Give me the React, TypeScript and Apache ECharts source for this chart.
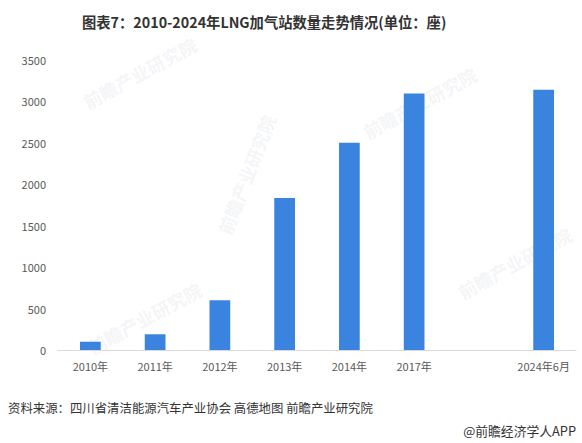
import React, { useEffect, useRef } from "react";
import * as echarts from "echarts";

const categories = ["2010年", "2011年", "2012年", "2013年", "2014年", "2017年", "", "2024年6月"];
const stations: (number | string)[] = [100, 190, 600, 1835, 2500, 3095, "-", 3140];
const yTicks = { min: 0, max: 3500, interval: 500 };
const titleText = "图表7：2010-2024年LNG加气站数量走势情况(单位：座)";
const sourceText = "资料来源：四川省清洁能源汽车产业协会 高德地图 前瞻产业研究院";
const brandText = "@前瞻经济学人APP";
const watermarkText = "前瞻产业研究院";

export default function App() {
  const ref = useRef<HTMLDivElement>(null);
  useEffect(() => {
    if (!ref.current) return;
    const chart = echarts.init(ref.current, undefined, { renderer: "svg" });
    const wm = (x: number, y: number, rot: number) => ({
      type: "text",
      x,
      y,
      rotation: rot,
      z: -1,
      silent: true,
      style: {
        text: watermarkText,
        fill: "rgba(205,210,220,0.22)",
        font: "bold 18px 'Noto Sans CJK SC', sans-serif",
      },
    });
    chart.setOption({
      animation: false,
      title: {
        text: titleText,
        left: 77,
        top: 9,
        textStyle: {
          fontFamily: "'Noto Sans CJK SC', sans-serif",
          fontSize: 14.3,
          fontWeight: "bold",
          color: "#333",
        },
      },
      grid: { left: 58, right: 6, top: 60, bottom: 93 },
      xAxis: {
        type: "category",
        data: categories,
        axisLine: { lineStyle: { color: "#d9d9d9" } },
        axisTick: { show: false },
        axisLabel: {
          color: "#595959",
          fontSize: 11,
          margin: 10,
          interval: 0,
          fontFamily: "'Noto Sans CJK SC', sans-serif",
        },
      },
      yAxis: {
        type: "value",
        min: yTicks.min,
        max: yTicks.max,
        interval: yTicks.interval,
        splitLine: { show: false },
        axisLine: { show: false },
        axisTick: { show: false },
        axisLabel: {
          color: "#595959",
          fontSize: 11,
          margin: 12,
          formatter: (v: number) => String(v),
          fontFamily: "'Noto Sans CJK SC', sans-serif",
        },
      },
      series: [
        {
          type: "bar",
          data: stations,
          barWidth: "32%",
          itemStyle: { color: "#3a84e0" },
        },
      ],
      graphic: [
        wm(80, 95, 0.5),
        wm(360, 125, 0.5),
        wm(215, 230, 1.2),
        wm(85, 340, 0.5),
        wm(455, 285, 0.5),
        {
          type: "text",
          left: 8,
          top: 402,
          style: {
            text: sourceText,
            fill: "#333",
            font: "12.4px 'Noto Sans CJK SC', sans-serif",
          },
        },
        {
          type: "text",
          right: 6,
          top: 424,
          style: {
            text: brandText,
            fill: "#333",
            font: "12.8px 'Noto Sans CJK SC', sans-serif",
          },
        },
      ],
    });
    return () => chart.dispose();
  }, []);
  return (
    <div
      ref={ref}
      style={{ position: "fixed", left: 0, top: 0, width: 582, height: 443, background: "#fff" }}
    />
  );
}
